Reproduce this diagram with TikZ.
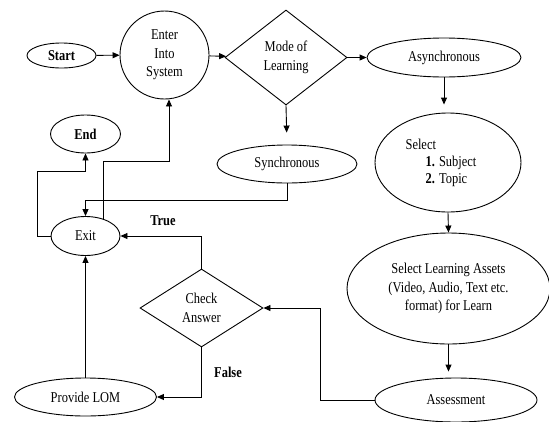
\documentclass[tikz,border=0pt]{standalone}
\usepackage{fontspec}
\setmainfont{Liberation Serif}[FakeStretch=0.83]
\usetikzlibrary{shapes.geometric,arrows.meta,calc}
\begin{document}
\begin{tikzpicture}[x=1pt,y=-1pt,
  every node/.style={font=\fontsize{15}{18.5}\selectfont, align=center, inner sep=0pt},
  oval/.style={draw, ellipse, line width=0.9pt},
  dia/.style={draw, diamond, line width=0.9pt},
  arr/.style={draw, line width=0.9pt, -{Triangle[length=7pt,width=6pt]}},
  lbl/.style={font=\fontsize{15}{18.5}\selectfont\bfseries}
]
\useasboundingbox (0,0) rectangle (549,421);
\node[oval, minimum width=69pt, minimum height=25pt] (start) at (61.5,55.5) {\textbf{Start}};
\node[oval, minimum width=89pt, minimum height=88pt] (enter) at (164.5,55) {Enter\\Into\\System};
\node[dia, minimum width=122pt, minimum height=95pt] (mode) at (286,57.5) {Mode of\\Learning};
\node[oval, minimum width=154pt, minimum height=39pt] (async) at (444,57.5) {Asynchronous};
\node[oval, minimum width=140pt, minimum height=38pt] (sync) at (287,164) {Synchronous};
\node[oval, minimum width=146pt, minimum height=99pt, align=left] (select) at (448,162.5) {\begin{tabular}{@{}l@{}}Select\\[-1.5pt]\hspace{20pt}\textbf{1.} Subject\\[-1.5pt]\hspace{20pt}\textbf{2.} Topic\end{tabular}\hspace{14pt}};
\node[oval, minimum width=203pt, minimum height=111pt] (assets) at (448.5,288.5) {Select Learning Assets\\(Video, Audio, Text etc.\\format) for Learn};
\node[oval, minimum width=162pt, minimum height=44pt] (assess) at (456,400) {Assessment};
\node[dia, minimum width=123pt, minimum height=78pt] (check) at (201.5,308) {Check\\Answer};
\node[oval, minimum width=142pt, minimum height=38pt] (lom) at (85.5,397) {Provide LOM};
\node[oval, minimum width=69pt, minimum height=39pt] (exit) at (85.5,236) {Exit};
\node[oval, minimum width=70pt, minimum height=38pt] (end) at (85.5,134) {\textbf{End}};
\node[lbl] (truelbl) at (163,221) {True};
\node[lbl] (falselbl) at (228,372) {False};

\draw[arr] (start) -- (enter);
\draw[arr] (enter) -- (mode);
\draw[arr] (mode) -- (async);
\draw[arr, shorten >=12pt] (mode.south) -- (sync.north);
\draw[arr, shorten >=8pt] (async.south) -- (async.south |- select.north);
\draw[arr] (select.south) -- (assets.north);
\draw[arr, shorten >=6pt] (assets.south) -- (assets.south |- assess.north);
\draw[arr] (assess.west) -- ++(-54,0) |- (check.east);
\draw[arr] (check.north) |- (exit.east);
\draw[arr] (check.south) |- (lom.east);
\draw[arr] (lom.north) -- (exit.south);
\draw[arr] (sync.south) -- ++(0,17) -| (exit.north);
\draw[arr] (exit.west) -- ++(-13,0) |- ($(end.south)+(0,18)$) -- (end.south);
\draw[arr] (exit.43) |- ($(enter.south)+(4.5,62)$) -- ([xshift=4.5pt]enter.south);
\end{tikzpicture}
\end{document}
